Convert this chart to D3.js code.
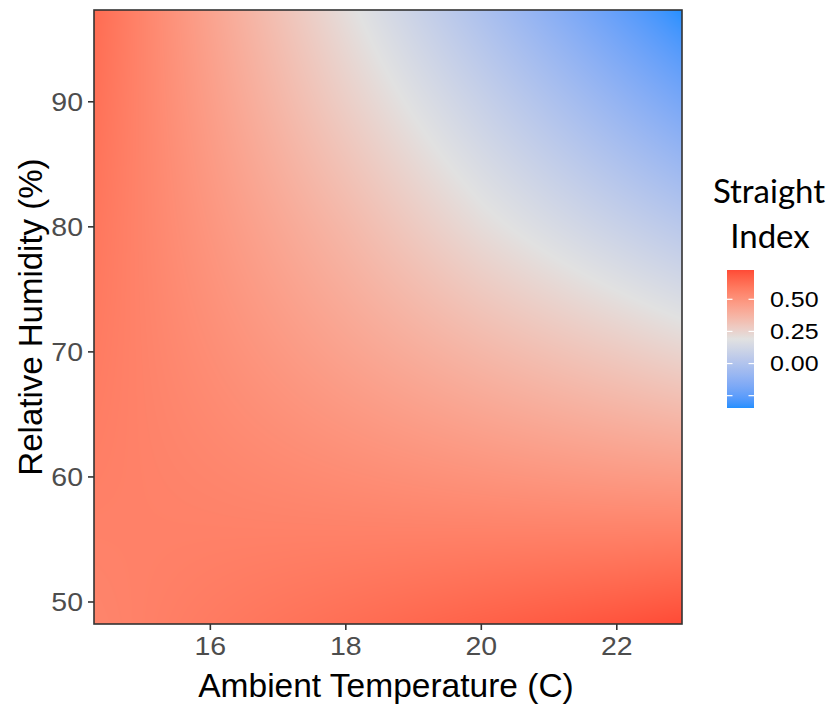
<!DOCTYPE html>
<html>
<head>
<meta charset="utf-8">
<script src="https://cdn.jsdelivr.net/npm/d3@7"></script>
<style>
  html, body { margin: 0; padding: 0; background: #fff; }
  svg { display: block; }
</style>
</head>
<body>
<svg id="chart" width="834" height="707"></svg>
<script>
// Predicted straightness index over ambient temperature (C) and relative humidity (%)
const temperatures = [14.29, 16, 18, 20, 22, 22.97];
const humidities = [48.2, 60, 70, 80, 90, 97.3];
// one row per humidity level (low to high), one column per temperature
const straightIndex = [
  [0.55, 0.585, 0.625, 0.665, 0.705, 0.728],
  [0.57, 0.55, 0.525, 0.50, 0.475, 0.465],
  [0.585, 0.52, 0.44, 0.36, 0.285, 0.245],
  [0.60, 0.49, 0.36, 0.215, 0.09, 0.03],
  [0.62, 0.46, 0.27, 0.085, -0.10, -0.19],
  [0.635, 0.44, 0.21, -0.015, -0.24, -0.346]
];
const xTicks = [16, 18, 20, 22];
const yTicks = [50, 60, 70, 80, 90];
const legendBreaks = [-0.25, 0, 0.25, 0.5];
const legendLabels = ["", "0.00", "0.25", "0.50"];
const colorMidpoint = 0.19;
const lowColor = "#1E90FF", midColor = "#E1E1E1", highColor = "#FF4A36";

const svg = d3.select("#chart");
const panel = { left: 94, right: 682, top: 10, bottom: 624 };

const x = d3.scaleLinear().domain([temperatures[0], temperatures[temperatures.length - 1]])
  .range([panel.left, panel.right]);
const y = d3.scaleLinear().domain([humidities[0], humidities[humidities.length - 1]])
  .range([panel.bottom, panel.top]);

const allValues = straightIndex.flat();
const limits = d3.extent(allValues);
const spread = Math.max(Math.abs(limits[0] - colorMidpoint), Math.abs(limits[1] - colorMidpoint));
const color = d3.scaleLinear()
  .domain([colorMidpoint - spread, colorMidpoint, colorMidpoint + spread])
  .range([lowColor, midColor, highColor])
  .interpolate(d3.interpolateLab)
  .clamp(true);

// bilinear interpolation within the value grid (raster smoothing)
function valueAt(t, h) {
  const i = Math.min(Math.max(d3.bisectRight(temperatures, t) - 1, 0), temperatures.length - 2);
  const j = Math.min(Math.max(d3.bisectRight(humidities, h) - 1, 0), humidities.length - 2);
  const u = (t - temperatures[i]) / (temperatures[i + 1] - temperatures[i]);
  const v = (h - humidities[j]) / (humidities[j + 1] - humidities[j]);
  const z00 = straightIndex[j][i], z10 = straightIndex[j][i + 1];
  const z01 = straightIndex[j + 1][i], z11 = straightIndex[j + 1][i + 1];
  return z00 * (1 - u) * (1 - v) + z10 * u * (1 - v) + z01 * (1 - u) * v + z11 * u * v;
}

// raster fill
const w = panel.right - panel.left, h = panel.bottom - panel.top;
const canvas = document.createElement("canvas");
canvas.width = w; canvas.height = h;
const ctx = canvas.getContext("2d");
const img = ctx.createImageData(w, h);
for (let py = 0; py < h; py++) {
  const hum = y.invert(panel.top + py + 0.5);
  for (let px = 0; px < w; px++) {
    const t = x.invert(panel.left + px + 0.5);
    const c = d3.rgb(color(valueAt(t, hum)));
    const k = (py * w + px) * 4;
    img.data[k] = c.r; img.data[k + 1] = c.g; img.data[k + 2] = c.b; img.data[k + 3] = 255;
  }
}
ctx.putImageData(img, 0, 0);
svg.append("image")
  .attr("x", panel.left).attr("y", panel.top)
  .attr("width", w).attr("height", h)
  .attr("preserveAspectRatio", "none")
  .attr("href", canvas.toDataURL());

// panel border
svg.append("rect")
  .attr("x", panel.left).attr("y", panel.top)
  .attr("width", w).attr("height", h)
  .attr("fill", "none").attr("stroke", "#333333").attr("stroke-width", 1.6);

// widen label glyphs slightly, as in the original rendering
function widen(sel, factor) {
  sel.each(function () {
    const len = this.getComputedTextLength();
    d3.select(this).attr("textLength", len * factor).attr("lengthAdjust", "spacingAndGlyphs");
  });
}

// axes
const tickFont = "'Liberation Sans', Arial, sans-serif";
const xAxis = svg.append("g").attr("transform", `translate(0,${panel.bottom})`)
  .call(d3.axisBottom(x).tickValues(xTicks).tickSize(6).tickPadding(5).tickFormat(d3.format("d")));
const yAxis = svg.append("g").attr("transform", `translate(${panel.left},0)`)
  .call(d3.axisLeft(y).tickValues(yTicks).tickSize(6).tickPadding(5).tickFormat(d3.format("d")));
[xAxis, yAxis].forEach(a => {
  a.select(".domain").remove();
  a.selectAll(".tick line").attr("stroke", "#333333").attr("stroke-width", 1.6);
  a.selectAll(".tick text").attr("fill", "#4D4D4D")
    .style("font-family", tickFont).style("font-size", "25px");
  widen(a.selectAll(".tick text"), 1.14);
});
xAxis.selectAll(".tick text").attr("dy", "0.8em");
yAxis.selectAll(".tick text").attr("dy", "0.36em");

// axis titles
svg.append("text")
  .attr("x", (panel.left + panel.right) / 2 - 2).attr("y", 697)
  .attr("text-anchor", "middle")
  .style("font-family", tickFont).style("font-size", "33.5px").attr("fill", "#000")
  .text("Ambient Temperature (C)");
svg.append("text")
  .attr("transform", `translate(42,${(panel.top + panel.bottom) / 2}) rotate(-90)`)
  .attr("text-anchor", "middle")
  .style("font-family", tickFont).style("font-size", "33px").attr("fill", "#000")
  .text("Relative Humidity (%)");

// legend
const legendFont = "Lato, 'Open Sans', sans-serif";
const legend = svg.append("g");
legend.append("text").attr("x", 769).attr("y", 203).attr("text-anchor", "middle")
  .style("font-family", legendFont).style("font-size", "33px").attr("fill", "#000").text("Straight");
legend.append("text").attr("x", 770).attr("y", 248).attr("text-anchor", "middle")
  .style("font-family", legendFont).style("font-size", "33px").attr("fill", "#000").text("Index");

const bar = { left: 727, right: 754, top: 270, bottom: 408 };
const ly = d3.scaleLinear().domain(limits).range([bar.bottom, bar.top]);
const grad = svg.append("defs").append("linearGradient")
  .attr("id", "legend-grad").attr("x1", 0).attr("y1", 1).attr("x2", 0).attr("y2", 0);
d3.range(0, 1.0001, 0.02).forEach(f => {
  const val = limits[0] + f * (limits[1] - limits[0]);
  grad.append("stop").attr("offset", f).attr("stop-color", color(val));
});
legend.append("rect")
  .attr("x", bar.left).attr("y", bar.top)
  .attr("width", bar.right - bar.left).attr("height", bar.bottom - bar.top)
  .attr("fill", "url(#legend-grad)");
legendBreaks.forEach((b, i) => {
  const yy = ly(b);
  legend.append("line").attr("x1", bar.left).attr("x2", bar.left + 5.5)
    .attr("y1", yy).attr("y2", yy).attr("stroke", "#fff").attr("stroke-width", 1.2);
  legend.append("line").attr("x1", bar.right - 5.5).attr("x2", bar.right)
    .attr("y1", yy).attr("y2", yy).attr("stroke", "#fff").attr("stroke-width", 1.2);
  if (legendLabels[i]) {
    const t = legend.append("text").attr("x", 770).attr("y", yy).attr("dy", "0.36em")
      .style("font-family", tickFont).style("font-size", "21.5px").attr("fill", "#000")
      .text(legendLabels[i]);
    widen(t, 1.16);
  }
});
</script>
</body>
</html>
